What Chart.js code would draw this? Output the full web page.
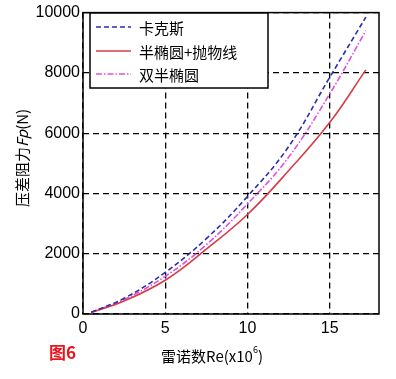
<!DOCTYPE html>
<html><head><meta charset="utf-8">
<script src="https://cdn.jsdelivr.net/npm/chart.js@4/dist/chart.umd.min.js"></script>
<style>html,body{margin:0;padding:0;background:#fff}#w{width:396px;height:379px}</style>
</head><body><div id="w"><canvas id="c" width="396" height="379"></canvas></div>
<script>
const reynolds = [0.5, 2.5, 5, 7.5, 10, 12.5, 15, 17.2];
const kaks = [60, 520, 1380, 2500, 3900, 5550, 7850, 9850];
const halfEllipseParabola = [50, 430, 1120, 2150, 3300, 4750, 6350, 8100];
const doubleHalfEllipse = [55, 480, 1250, 2300, 3650, 5200, 7300, 9400];
const seriesNames = ['卡克斯', '半椭圆+抛物线', '双半椭圆'];
const xTicks = [0, 5, 10, 15];
const yTicks = [0, 2000, 4000, 6000, 8000, 10000];

const pts = arr => arr.map((v, i) => ({x: reynolds[i], y: v}));
const FONT = 'Arial, "Liberation Sans", "Noto Sans CJK SC", sans-serif';
const CJK = '"Noto Sans CJK SC", "Noto Sans", sans-serif';

const overlay = {
  id: 'overlay',
  beforeDatasetsDraw(chart) {
    const {ctx, chartArea: a} = chart;
    ctx.save();
    ctx.strokeStyle = '#000'; ctx.lineWidth = 1.5;
    ctx.strokeRect(a.left, a.top, a.right - a.left, a.bottom - a.top);
    ctx.restore();
  },
  afterDraw(chart) {
    const {ctx} = chart;
    ctx.save();
    const lx = 90, ly = 13, lw = 178, lh = 75;
    ctx.fillStyle = '#fff'; ctx.fillRect(lx, ly, lw, lh);
    ctx.strokeStyle = '#000'; ctx.lineWidth = 1.5; ctx.strokeRect(lx, ly, lw, lh);
    const rows = [27, 51, 74];
    chart.data.datasets.forEach((ds, i) => {
      ctx.strokeStyle = ds.borderColor; ctx.lineWidth = ds.borderWidth;
      ctx.setLineDash(ds.borderDash || []);
      ctx.beginPath(); ctx.moveTo(96, rows[i]); ctx.lineTo(131, rows[i]); ctx.stroke();
      ctx.setLineDash([]);
      ctx.fillStyle = '#000'; ctx.font = '15px ' + CJK; ctx.textBaseline = 'middle';
      ctx.fillText(ds.label, 139, rows[i] + 1);
    });
    ctx.fillStyle = '#000'; ctx.textBaseline = 'middle';
    ctx.font = '15px ' + CJK;
    const p1 = '雷诺数Re(x10', p2 = '6', p3 = ')';
    const w1 = ctx.measureText(p1).width;
    ctx.font = '9px ' + CJK; const w2 = ctx.measureText(p2).width;
    ctx.font = '15px ' + CJK; const w3 = ctx.measureText(p3).width;
    let sx = 212 - (w1 + w2 + w3) / 2;
    ctx.fillText(p1, sx, 356); sx += w1;
    ctx.font = '9px ' + CJK; ctx.fillText(p2, sx, 350); sx += w2;
    ctx.font = '15px ' + CJK; ctx.fillText(p3, sx, 356);
    ctx.save();
    ctx.translate(22, 158); ctx.rotate(-Math.PI / 2);
    ctx.font = '15px ' + CJK;
    const q1 = '压差阻力', q2 = 'Fp', q3 = '(N)';
    const v1 = ctx.measureText(q1).width;
    ctx.font = 'italic 15px ' + CJK; const v2 = ctx.measureText(q2).width;
    ctx.font = '15px ' + CJK; const v3 = ctx.measureText(q3).width;
    let ty = -(v1 + v2 + v3) / 2;
    ctx.fillText(q1, ty, 0); ty += v1;
    ctx.font = 'italic 15px ' + CJK; ctx.fillText(q2, ty, 0); ty += v2;
    ctx.font = '15px ' + CJK; ctx.fillText(q3, ty, 0);
    ctx.restore();
    ctx.fillStyle = '#e8141e'; ctx.font = 'bold 17px ' + CJK;
    ctx.fillText('图6', 49, 353);
    ctx.restore();
  }
};

new Chart(document.getElementById('c'), {
  type: 'line',
  data: {
    datasets: [
      {label: seriesNames[0], data: pts(kaks), borderColor: 'rgb(45,45,175)', borderWidth: 1.6, borderDash: [5, 3], pointRadius: 0, tension: 0.4, fill: false},
      {label: seriesNames[1], data: pts(halfEllipseParabola), borderColor: 'rgb(215,60,70)', borderWidth: 1.6, pointRadius: 0, tension: 0.4, fill: false},
      {label: seriesNames[2], data: pts(doubleHalfEllipse), borderColor: 'rgb(225,80,225)', borderWidth: 1.6, borderDash: [6, 2, 1.5, 2], pointRadius: 0, tension: 0.4, fill: false}
    ]
  },
  options: {
    responsive: false, animation: false,
    layout: {padding: {left: 0, right: 17, top: 10, bottom: 0}},
    plugins: {legend: {display: false}, tooltip: {enabled: false}},
    scales: {
      x: {
        type: 'linear', min: 0, max: 18,
        afterBuildTicks: s => { s.ticks = xTicks.map(v => ({value: v})); },
        afterFit: s => { s.height = 65; },
        border: {display: false, dash: [6, 4]},
        grid: {color: '#000', lineWidth: 1.3, drawTicks: false},
        ticks: {color: '#000', font: {size: 16, family: FONT}, padding: 5, callback: v => String(v)},
      },
      y: {
        type: 'linear', min: 0, max: 10000,
        afterBuildTicks: s => { s.ticks = yTicks.map(v => ({value: v})); },
        afterFit: s => { s.width = 83; },
        border: {display: false, dash: [6, 4]},
        grid: {color: '#000', lineWidth: 1.3, drawTicks: false},
        ticks: {color: '#000', font: {size: 16, family: FONT}, padding: 3, callback: v => String(v)},
      }
    }
  },
  plugins: [overlay]
});
</script>
</body></html>
